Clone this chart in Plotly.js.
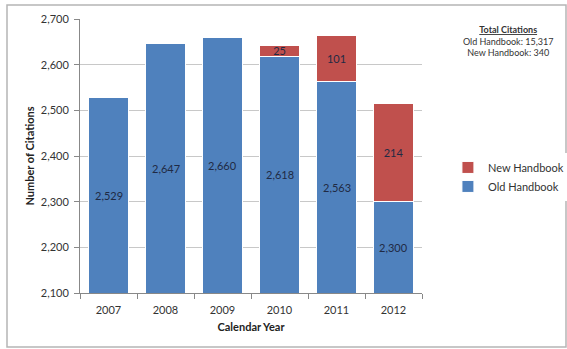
<!DOCTYPE html>
<html><head><meta charset="utf-8">
<script src="https://cdn.plot.ly/plotly-3.0.1.min.js"></script>
<style>html,body{margin:0;padding:0;background:#fff}#c{width:567px;height:349px}</style>
</head><body><div id="c"></div>
<script>
const years = ['2007','2008','2009','2010','2011','2012'];
const oldHandbook = [2529, 2647, 2660, 2618, 2563, 2300];
const newHandbook = [null, null, null, 25, 101, 214];
const yTicks = [2100, 2200, 2300, 2400, 2500, 2600, 2700];
const yMin = 2100, yMax = 2700;
const totalOld = 15317;
const totalNew = 340;

const FONT = 'Lato, "Open Sans", sans-serif';
const labelColor = '#1f2a44';

const traces = [
  {type:'bar', name:'Old Handbook', x:years, y:oldHandbook,
   marker:{color:'#4f81bd', line:{color:'#ffffff', width:1}},
   hoverinfo:'x+y'},
  {type:'bar', name:'New Handbook', x:years, y:newHandbook,
   marker:{color:'#c0504d', line:{color:'#ffffff', width:1}},
   text: newHandbook.map(v=>v==null?'':String(v)), textposition:'inside',
   insidetextanchor:'middle', constraintext:'none', textangle:0,
   textfont:{family:FONT, size:11, color:labelColor},
   hoverinfo:'x+y'}
];

// labels for old-handbook segments, centred in the visible part of each bar
const oldLabels = years.map((yr,i)=>({
  xref:'x', yref:'y', x:i, y:(yMin+oldHandbook[i])/2, showarrow:false,
  text: oldHandbook[i].toLocaleString('en-US'),
  font:{family:FONT, size:11, color:labelColor}
}));

const layout = {
  width:567, height:349,
  margin:{l:80, r:145, t:19, b:56},
  paper_bgcolor:'#ffffff', plot_bgcolor:'#ffffff',
  barmode:'stack', bargap:0.3,
  font:{family:FONT, size:11, color:'#333'},
  showlegend:true,
  legend:{traceorder:'reversed', xref:'container', yref:'container', x:0.79, y:0.493,
          xanchor:'left', yanchor:'middle',
          font:{family:FONT, size:11, color:'#333'}, tracegroupgap:0},
  xaxis:{type:'category', showline:true, linecolor:'#888', linewidth:1,
         ticks:'outside', tickson:'boundaries', ticklen:5, tickcolor:'#888',
         ticklabelstandoff:7,
         tickfont:{family:FONT, size:11, color:'#333'},
         title:{text:'<b>Calendar Year</b>', font:{family:FONT, size:11, color:'#222'}, standoff:8}},
  yaxis:{range:[yMin,yMax], tickvals:yTicks, tickformat:',', showline:true, linecolor:'#888',
         ticks:'outside', ticklen:5, tickcolor:'#888', gridcolor:'#c8c8c8', zeroline:false,
         ticklabelstandoff:3,
         tickfont:{family:FONT, size:11, color:'#333'},
         title:{text:'<b>Number of Citations</b>', font:{family:FONT, size:11, color:'#222'}, standoff:3}},
  annotations: oldLabels.concat([
    {xref:'paper', yref:'paper', x:(508-80)/342, y:(293-22)/274, xanchor:'center', yanchor:'top', showarrow:false,
     align:'center', font:{family:FONT, size:9, color:'#333'},
     text:'<b><u>Total Citations</u></b><br>Old Handbook: '+totalOld.toLocaleString('en-US')+'<br>New Handbook: '+totalNew.toLocaleString('en-US')}
  ]),
  shapes:[
    {type:'rect', xref:'paper', yref:'paper', x0:(7-80)/342, x1:(566-80)/342, y0:(293-347)/274, y1:(293-5)/274,
     line:{color:'#b5b5b5', width:1.5}, fillcolor:'rgba(0,0,0,0)', layer:'below'}
  ]
};

Plotly.newPlot('c', traces, layout, {displayModeBar:false, staticPlot:true});
</script></body></html>
